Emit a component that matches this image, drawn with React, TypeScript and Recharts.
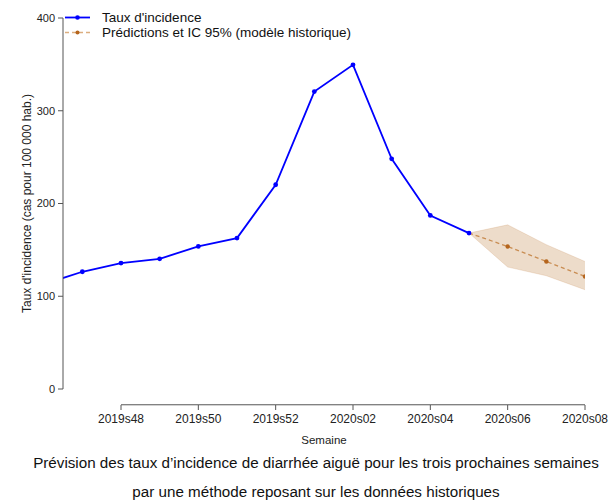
import React from 'react';
import {
  ComposedChart,
  Line,
  Area,
  XAxis,
  YAxis,
  ReferenceLine,
} from 'recharts';

// week labels, index 0 = 2019s46
const WEEKS = [
  '2019s46', '2019s47', '2019s48', '2019s49', '2019s50', '2019s51', '2019s52',
  '2020s01', '2020s02', '2020s03', '2020s04', '2020s05', '2020s06', '2020s07', '2020s08',
];
// observed incidence rate (cases per 100 000)
const INCIDENCE = [112.8, 126.4, 135.8, 140.4, 153.7, 162.7, 220.2, 320.7, 349.5, 248.2, 187.1, 168.1];
// predictions (historical model) and 95% CI, starting from the last observed week
const PRED_START = 11;
const PREDICTION = [168.1, 153.7, 137.5, 121.3];
const CI_LOW = [168.1, 131.5, 122.1, 107.0];
const CI_HIGH = [168.1, 177.0, 155.6, 137.5];
const X_TICKS = [2, 4, 6, 8, 10, 12, 14];
const Y_TICKS = [0, 100, 200, 300, 400];

const BLUE = '#0000ff';
const BROWN = '#b5651d';
const FONT = '"Liberation Sans", Arial, Helvetica, sans-serif';

const data = WEEKS.map((w, i) => {
  const p = i - PRED_START;
  const inPred = p >= 0 && p < PREDICTION.length;
  return {
    x: i,
    week: w,
    obs: i < INCIDENCE.length ? INCIDENCE[i] : null,
    pred: inPred ? PREDICTION[p] : null,
    predDot: inPred && p > 0 ? PREDICTION[p] : null,
    ci: inPred ? [CI_LOW[p], CI_HIGH[p]] : null,
  };
});

const XTick = (props: any) => {
  const { x, y, payload } = props;
  return (
    <g>
      <line x1={x} x2={x} y1={y + 16} y2={y + 21} stroke="#555" strokeWidth={1} />
      <text x={x} y={y + 34} textAnchor="middle" fontSize={12} fill="#222" fontFamily={FONT}>
        {WEEKS[payload.value]}
      </text>
    </g>
  );
};

// legend drawn as an overlay so it does not take space from the plot
const ChartLegend = () => (
  <div
    style={{
      position: 'absolute',
      top: 10,
      left: 64,
      fontFamily: FONT,
      fontSize: 13.5,
      color: '#111',
      lineHeight: '15px',
    }}
  >
    <div style={{ display: 'flex', alignItems: 'center' }}>
      <svg width={38} height={15}>
        <line x1={1} x2={26} y1={7.5} y2={7.5} stroke={BLUE} strokeWidth={1.8} />
        <circle cx={13.5} cy={7.5} r={2.3} fill={BLUE} />
      </svg>
      <span>Taux d'incidence</span>
    </div>
    <div style={{ display: 'flex', alignItems: 'center' }}>
      <svg width={38} height={15}>
        <line x1={1} x2={26} y1={7.5} y2={7.5} stroke="#dcae80" strokeWidth={1.3} strokeDasharray="4 3" />
        <circle cx={13.5} cy={7.5} r={2} fill={BROWN} />
      </svg>
      <span>Prédictions et IC 95% (modèle historique)</span>
    </div>
  </div>
);

export default function App() {
  return (
    <div style={{ position: 'absolute', left: 0, top: 0, width: 609, height: 500, background: '#fff' }}>
      <ComposedChart
        width={609}
        height={449}
        data={data}
        margin={{ top: 18, right: 24, bottom: 0, left: 0 }}
      >
        <XAxis
          dataKey="x"
          type="number"
          domain={[0.5, 14]}
          allowDataOverflow
          ticks={X_TICKS}
          interval={0}
          axisLine={false}
          tickLine={false}
          tickSize={0}
          tickMargin={0}
          height={60}
          tick={<XTick />}
          label={{
            value: 'Semaine',
            position: 'insideTop',
            offset: 47,
            fontSize: 11.5,
            fill: '#222',
            fontFamily: FONT,
          }}
        />
        <YAxis
          type="number"
          domain={[0, 400]}
          ticks={Y_TICKS}
          width={63}
          axisLine={{ stroke: '#555' }}
          tickLine={{ stroke: '#555' }}
          tickSize={5}
          tickMargin={3}
          tick={{ fontSize: 11, fill: '#222', fontFamily: FONT }}
          label={{
            value: "Taux d'incidence (cas pour 100 000 hab.)",
            angle: -90,
            position: 'center',
            dx: -5,
            fontSize: 12,
            fill: '#222',
            fontFamily: FONT,
          }}
        />
        <ReferenceLine
          segment={[
            { x: X_TICKS[0], y: -17 },
            { x: X_TICKS[X_TICKS.length - 1], y: -17 },
          ]}
          ifOverflow="visible"
          stroke="#555"
          strokeWidth={1}
        />
        <Area
          dataKey="ci"
          type="linear"
          fill="#c8915a"
          fillOpacity={0.32}
          stroke={BROWN}
          strokeOpacity={0.15}
          connectNulls={false}
          isAnimationActive={false}
        />
        <Line
          dataKey="pred"
          type="linear"
          stroke="#c98d52"
          strokeWidth={1.3}
          strokeDasharray="4 3"
          dot={false}
          isAnimationActive={false}
        />
        <Line
          dataKey="predDot"
          type="linear"
          stroke="none"
          dot={{ r: 2.2, fill: BROWN, stroke: 'none' }}
          isAnimationActive={false}
        />
        <Line
          dataKey="obs"
          type="linear"
          stroke={BLUE}
          strokeWidth={1.8}
          dot={{ r: 2.4, fill: BLUE, stroke: 'none' }}
          isAnimationActive={false}
        />
      </ComposedChart>
      <ChartLegend />
      <div
        style={{
          position: 'absolute',
          left: 0,
          width: 632,
          top: 448,
          textAlign: 'center',
          fontFamily: FONT,
          fontSize: 15.2,
          color: '#111',
          lineHeight: '29px',
        }}
      >
        <div>Prévision des taux d’incidence de diarrhée aiguë pour les trois prochaines semaines</div>
        <div>par une méthode reposant sur les données historiques</div>
      </div>
    </div>
  );
}
